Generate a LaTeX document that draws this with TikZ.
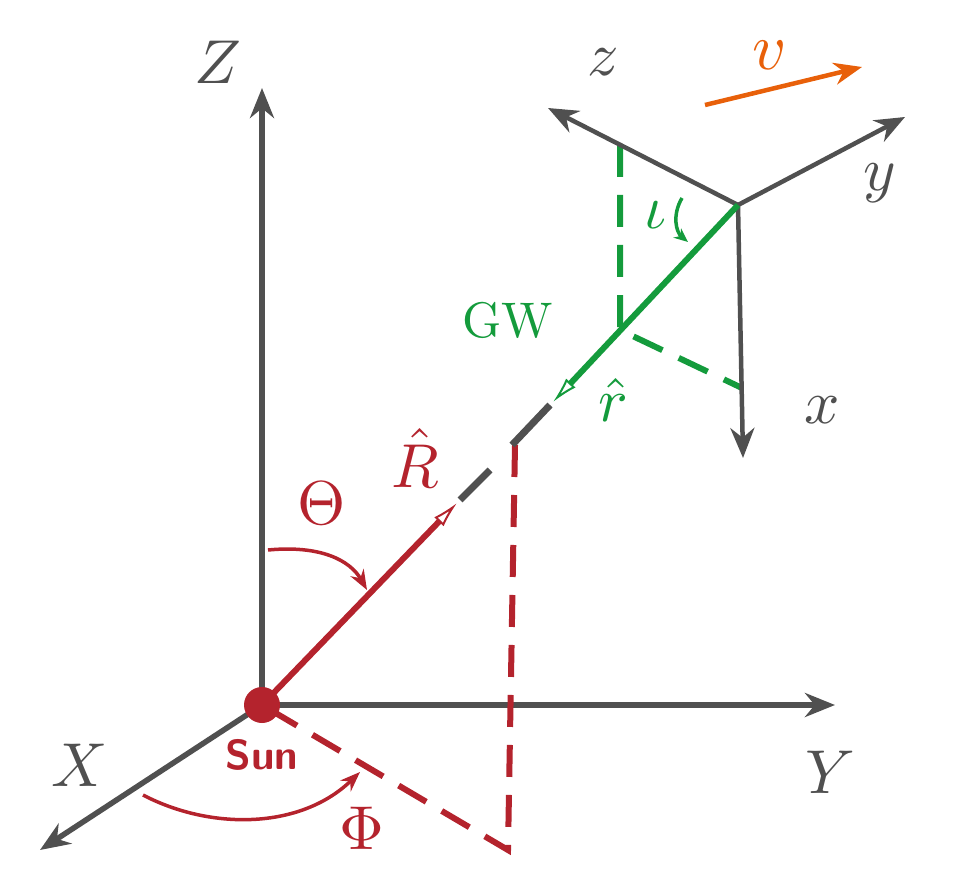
\documentclass[tikz,border=0pt]{standalone}
\usepackage{fontspec}
\usetikzlibrary{arrows.meta}
\definecolor{ax}{RGB}{80,80,80}
\definecolor{rd}{RGB}{180,35,45}
\definecolor{gr}{RGB}{20,155,60}
\definecolor{og}{RGB}{232,96,10}
\begin{document}
\begin{tikzpicture}[x=1pt,y=-1pt,
  axis/.style={ax,line width=5.5pt,-{Stealth[length=30pt,width=24pt]}},
  lab/.style={scale=6.2},
  dsh/.style={line width=6pt,dash pattern=on 32pt off 18pt}]
\useasboundingbox (0,0) rectangle (957,882);
\coordinate (O) at (262,705);
\coordinate (Zt) at (262,88);
\coordinate (Yt) at (835,705);
\coordinate (Xt) at (40,850);
\draw[axis] (O) -- (Zt);
\draw[axis] (O) -- (Yt);
\draw[axis] (O) -- (Xt);
\node[lab,ax] (Zl) at (218,62) {$Z$};
\node[lab,ax] (Yl) at (830,772) {$Y$};
\node[lab,ax] (Xl) at (80,765) {$X$};
% red
\coordinate (Rt) at (457,503);
\coordinate (P) at (515,445);
\coordinate (F) at (508,850);
\draw[rd,dsh] (P) -- (F) -- (O);
\draw[rd,line width=6pt,-{Latex[open,length=26pt,width=13pt,line width=2pt]}] (O) -- (Rt);
\coordinate (g1) at (460,500); \coordinate (g2) at (490,470);
\coordinate (g3) at (512,445); \coordinate (g4) at (550,405);
\draw[ax,line width=7pt] (g1) -- (g2);
\draw[ax,line width=7pt] (g3) -- (g4);
\node[circle,fill=rd,minimum size=36pt,inner sep=0] (sun) at (O) {};
\node[rd,scale=4.2,font=\sffamily\bfseries] (sunl) at (262,755) {Sun};
\node[lab,rd] (Rl) at (415,458) {$\hat R$};
\node[lab,rd] (Tl) at (322,503) {$\Theta$};
\node[lab,rd] (Pl) at (362,828) {$\Phi$};
\coordinate (t1) at (268,550); \coordinate (t2) at (367,590);
\draw[rd,line width=3.5pt,-{Stealth[length=20pt,width=15pt]}] (t1) .. controls (320,545) and (350,560) .. (t2);
\coordinate (p1) at (143,795); \coordinate (p2) at (360,772);
\draw[rd,line width=3.5pt,-{Stealth[length=20pt,width=15pt]}] (p1) .. controls (210,830) and (300,830) .. (p2);
% local frame
\coordinate (L) at (738,205);
\coordinate (zt) at (548,108);
\coordinate (yt) at (905,117);
\coordinate (xt) at (743,458);
\coordinate (M) at (620,330);
\coordinate (V) at (620,145);
\coordinate (W) at (742,388);
\draw[gr,dsh] (V) -- (M) -- (W);
\draw[axis,line width=4.5pt] (L) -- (zt);
\draw[axis,line width=4.5pt] (L) -- (yt);
\draw[axis,line width=4.5pt] (L) -- (xt);
\draw[gr,line width=6pt,-{Latex[open,length=26pt,width=13pt,line width=2pt]}] (L) -- (553,402);
\node[lab,ax] (zl) at (603,62) {$z$};
\node[lab,ax] (yl) at (880,183) {$y$};
\node[lab,ax] (xl) at (822,410) {$x$};
\node[lab,gr] (il) at (655,215) {$\iota$};
\coordinate (i1) at (682,198); \coordinate (i2) at (688,242);
\draw[gr,line width=3.5pt,-{Stealth[length=14pt,width=12pt]}] (i1) .. controls (672,215) and (676,232) .. (i2);
\node[gr,scale=5] (gw) at (508,320) {GW};
\node[lab,gr] (rl) at (613,400) {$\hat r$};
\coordinate (v1) at (705,105); \coordinate (v2) at (862,67);
\draw[og,line width=4.5pt,-{Stealth[length=28pt,width=22pt]}] (v1) -- (v2);
\node[og,scale=6.6] (vl) at (770,55) {$v$};
\end{tikzpicture}
\end{document}
